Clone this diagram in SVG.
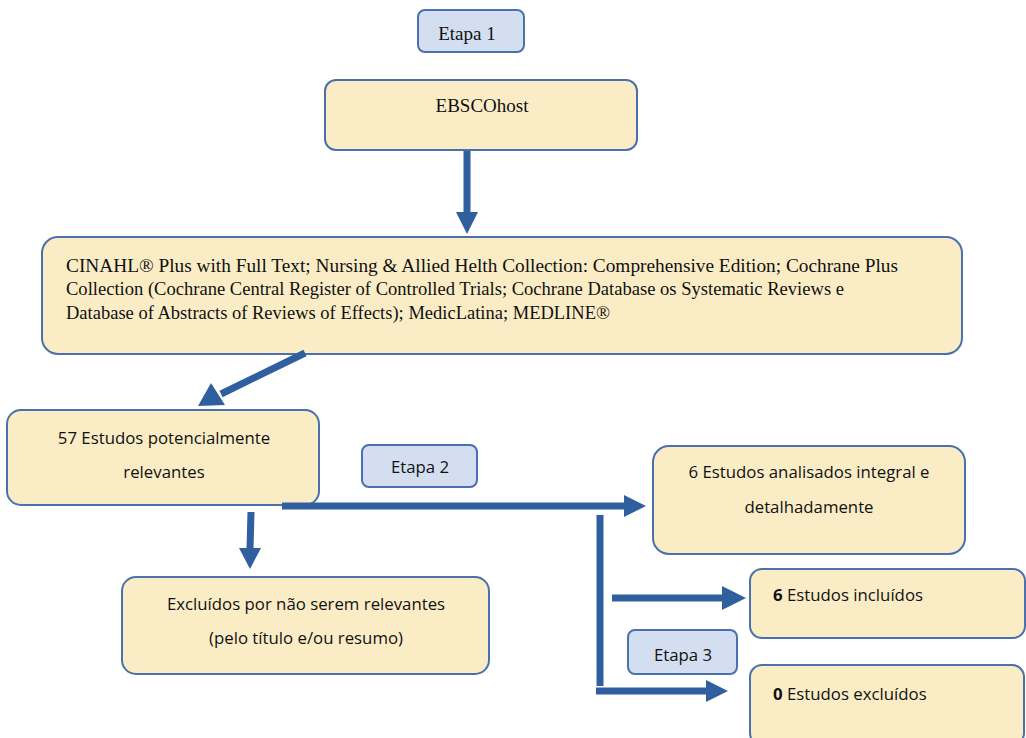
<svg xmlns="http://www.w3.org/2000/svg" width="1026" height="738" viewBox="0 0 1026 738">
<style>
.box{fill:#faedc6;stroke:#4a70ad;stroke-width:2}
.etapa{fill:#d3dff0;stroke:#4a70ad;stroke-width:2}
.serif{font-family:"Liberation Serif",serif;font-size:19px;fill:#111}
.sans{font-family:"Open Sans","Liberation Sans",sans-serif;font-size:16.8px;fill:#111}
.conn{stroke:#2f5f9f;stroke-width:7;fill:none}
.head{fill:#2f5f9f}
</style>
<rect width="1026" height="738" fill="#fff"/>
<g id="etapa1"><rect class="etapa" x="418" y="10" width="106" height="42" rx="7"/><text class="serif" x="467" y="40" text-anchor="middle">Etapa 1</text></g>
<g id="ebsco"><rect class="box" x="325" y="80" width="312" height="70" rx="11"/><text class="serif" x="482" y="112" text-anchor="middle">EBSCOhost</text></g>
<g id="databases"><rect class="box" x="42" y="237" width="920" height="117" rx="16"/>
<text class="serif" x="66" y="272" textLength="832" lengthAdjust="spacingAndGlyphs">CINAHL® Plus with Full Text; Nursing &amp; Allied Helth Collection: Comprehensive Edition; Cochrane Plus</text>
<text class="serif" x="66" y="295" textLength="778" lengthAdjust="spacingAndGlyphs">Collection (Cochrane Central Register of Controlled Trials; Cochrane Database os Systematic Reviews e</text>
<text class="serif" x="66" y="319" textLength="544" lengthAdjust="spacingAndGlyphs">Database of Abstracts of Reviews of Effects); MedicLatina; MEDLINE®</text></g>
<g id="potenciais"><rect class="box" x="7" y="410" width="312" height="95" rx="14"/>
<text class="sans" x="164" y="444" text-anchor="middle">57 Estudos potencialmente</text>
<text class="sans" x="164" y="478" text-anchor="middle">relevantes</text></g>
<g id="etapa2"><rect class="etapa" x="362" y="445" width="115" height="42" rx="7"/><text class="sans" x="420" y="473" text-anchor="middle">Etapa 2</text></g>
<g id="analisados"><rect class="box" x="653" y="446" width="312" height="108" rx="16"/>
<text class="sans" x="809" y="478" text-anchor="middle">6 Estudos analisados integral e</text>
<text class="sans" x="809" y="513" text-anchor="middle">detalhadamente</text></g>
<g id="excluidos1"><rect class="box" x="122" y="577" width="367" height="97" rx="14"/>
<text class="sans" x="306" y="610" text-anchor="middle">Excluídos por não serem relevantes</text>
<text class="sans" x="306" y="644" text-anchor="middle">(pelo título e/ou resumo)</text></g>
<g id="incluidos"><rect class="box" x="750" y="569" width="275" height="69" rx="12"/>
<text class="sans" x="773" y="601"><tspan font-weight="bold">6</tspan> Estudos incluídos</text></g>
<g id="etapa3"><rect class="etapa" x="628" y="630" width="109" height="44" rx="7"/><text class="sans" x="683" y="661" text-anchor="middle">Etapa 3</text></g>
<g id="excluidos2"><rect class="box" x="750" y="665" width="274" height="80" rx="12"/>
<text class="sans" x="773" y="700"><tspan font-weight="bold">0</tspan> Estudos excluídos</text></g>
<g id="connectors">
<line class="conn" x1="467" y1="151" x2="467" y2="213"/><polygon class="head" points="456,212 478,212 467,234"/>
<line class="conn" x1="305" y1="353" x2="221" y2="394"/><polygon class="head" points="211,383 225,405 198,406"/>
<line class="conn" x1="282" y1="506" x2="626" y2="506"/><polygon class="head" points="624,495 646,506 624,517"/>
<line class="conn" x1="251" y1="512" x2="250" y2="549"/><polygon class="head" points="239,548 261,548 250,569"/>
<line class="conn" x1="600" y1="515" x2="600" y2="686"/>
<line class="conn" x1="612" y1="598" x2="724" y2="598"/><polygon class="head" points="722,586 746,598 722,610"/>
<line class="conn" x1="596" y1="691" x2="708" y2="691"/><polygon class="head" points="706,680 728,691 706,702"/>
</g>
</svg>
